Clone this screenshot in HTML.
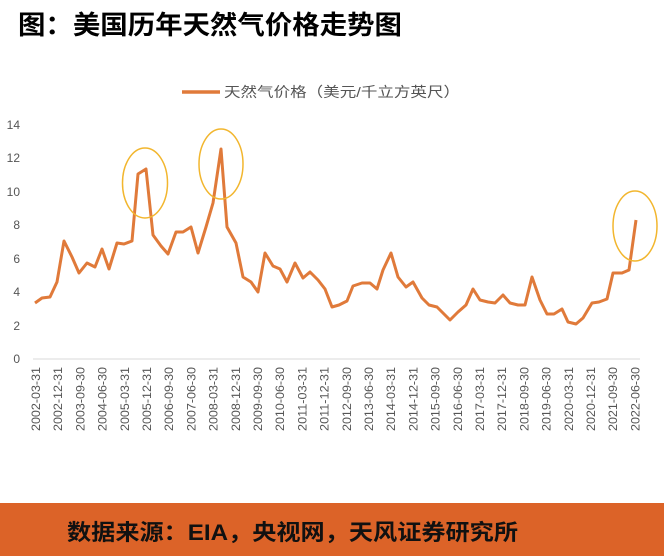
<!DOCTYPE html>
<html><head><meta charset="utf-8"><style>
body{margin:0;background:#fff;width:664px;height:556px;overflow:hidden}
svg{display:block}
</style></head><body>
<svg width="664" height="556" viewBox="0 0 664 556" xmlns="http://www.w3.org/2000/svg" font-family="Liberation Sans, Noto Sans CJK SC, sans-serif">
<text x="18" y="34" font-size="26" font-weight="bold" fill="#000" textLength="384" lengthAdjust="spacingAndGlyphs">图：美国历年天然气价格走势图</text>
<line x1="182" y1="92" x2="220" y2="92" stroke="#e07a3a" stroke-width="3.5"/>
<text x="224" y="97" font-size="14" fill="#555" textLength="236" lengthAdjust="spacingAndGlyphs">天然气价格（美元/千立方英尺）</text>
<g font-size="12" fill="#555" text-anchor="end">
<text x="20" y="129">14</text><text x="20" y="162">12</text><text x="20" y="196">10</text>
<text x="20" y="229">8</text><text x="20" y="263">6</text><text x="20" y="296">4</text>
<text x="20" y="330">2</text><text x="20" y="363">0</text>
</g>
<line x1="33" y1="359" x2="640" y2="359" stroke="#d9d9d9" stroke-width="1"/>
<polyline fill="none" stroke="#e07a3a" stroke-width="3" stroke-linejoin="round" points="35,303 42,298 50,297 57,282 64,241 72,257 79,273 87,263 95,267 102,249 109,269 117,243 124,244 132,241 138,174 146,169 153,235 161,246 168,254 176,232 183,232 191,227 198,253 206,227 213,203 221,149 227,227 236,243 243,277 251,282 258,292 265,253 273,266 280,269 287,282 295,263 303,278 310,272 318,280 325,289 332,307 339,305 347,301 353,286 362,283 370,283 377,289 383,270 391,253 398,277 406,287 413,282 422,298 429,305 437,307 443,313 450,320 458,312 466,305 473,289 480,300 488,302 495,303 503,295 510,303 518,305 525,305 532,277 540,300 547,314 554,314 562,309 568,322 576,324 583,318 592,303 599,302 607,299 613,273 622,273 629,270 636,220"/>
<g fill="none" stroke="#f2b62e" stroke-width="1.5">
<ellipse cx="145" cy="183" rx="22.5" ry="35"/>
<ellipse cx="221" cy="164" rx="22" ry="35"/>
<ellipse cx="635" cy="226" rx="22" ry="35"/>
</g>
<g font-size="11.5" fill="#555" text-anchor="end">
<text transform="translate(40,367) rotate(-90)" textLength="64" lengthAdjust="spacingAndGlyphs">2002-03-31</text>
<text transform="translate(62.2,367) rotate(-90)" textLength="64" lengthAdjust="spacingAndGlyphs">2002-12-31</text>
<text transform="translate(84.4,367) rotate(-90)" textLength="64" lengthAdjust="spacingAndGlyphs">2003-09-30</text>
<text transform="translate(106.6,367) rotate(-90)" textLength="64" lengthAdjust="spacingAndGlyphs">2004-06-30</text>
<text transform="translate(128.8,367) rotate(-90)" textLength="64" lengthAdjust="spacingAndGlyphs">2005-03-31</text>
<text transform="translate(151,367) rotate(-90)" textLength="64" lengthAdjust="spacingAndGlyphs">2005-12-31</text>
<text transform="translate(173.2,367) rotate(-90)" textLength="64" lengthAdjust="spacingAndGlyphs">2006-09-30</text>
<text transform="translate(195.4,367) rotate(-90)" textLength="64" lengthAdjust="spacingAndGlyphs">2007-06-30</text>
<text transform="translate(217.6,367) rotate(-90)" textLength="64" lengthAdjust="spacingAndGlyphs">2008-03-31</text>
<text transform="translate(239.8,367) rotate(-90)" textLength="64" lengthAdjust="spacingAndGlyphs">2008-12-31</text>
<text transform="translate(262,367) rotate(-90)" textLength="64" lengthAdjust="spacingAndGlyphs">2009-09-30</text>
<text transform="translate(284.2,367) rotate(-90)" textLength="64" lengthAdjust="spacingAndGlyphs">2010-06-30</text>
<text transform="translate(306.4,367) rotate(-90)" textLength="64" lengthAdjust="spacingAndGlyphs">2011-03-31</text>
<text transform="translate(328.6,367) rotate(-90)" textLength="64" lengthAdjust="spacingAndGlyphs">2011-12-31</text>
<text transform="translate(350.8,367) rotate(-90)" textLength="64" lengthAdjust="spacingAndGlyphs">2012-09-30</text>
<text transform="translate(373,367) rotate(-90)" textLength="64" lengthAdjust="spacingAndGlyphs">2013-06-30</text>
<text transform="translate(395.2,367) rotate(-90)" textLength="64" lengthAdjust="spacingAndGlyphs">2014-03-31</text>
<text transform="translate(417.4,367) rotate(-90)" textLength="64" lengthAdjust="spacingAndGlyphs">2014-12-31</text>
<text transform="translate(439.6,367) rotate(-90)" textLength="64" lengthAdjust="spacingAndGlyphs">2015-09-30</text>
<text transform="translate(461.8,367) rotate(-90)" textLength="64" lengthAdjust="spacingAndGlyphs">2016-06-30</text>
<text transform="translate(484,367) rotate(-90)" textLength="64" lengthAdjust="spacingAndGlyphs">2017-03-31</text>
<text transform="translate(506.2,367) rotate(-90)" textLength="64" lengthAdjust="spacingAndGlyphs">2017-12-31</text>
<text transform="translate(528.4,367) rotate(-90)" textLength="64" lengthAdjust="spacingAndGlyphs">2018-09-30</text>
<text transform="translate(550.6,367) rotate(-90)" textLength="64" lengthAdjust="spacingAndGlyphs">2019-06-30</text>
<text transform="translate(572.8,367) rotate(-90)" textLength="64" lengthAdjust="spacingAndGlyphs">2020-03-31</text>
<text transform="translate(595,367) rotate(-90)" textLength="64" lengthAdjust="spacingAndGlyphs">2020-12-31</text>
<text transform="translate(617.2,367) rotate(-90)" textLength="64" lengthAdjust="spacingAndGlyphs">2021-09-30</text>
<text transform="translate(639.4,367) rotate(-90)" textLength="64" lengthAdjust="spacingAndGlyphs">2022-06-30</text>
</g>
<rect x="0" y="503" width="664" height="53" fill="#dc6328"/>
<text x="67" y="540" font-size="22" font-weight="bold" fill="#111" textLength="451" lengthAdjust="spacingAndGlyphs">数据来源：EIA，央视网，天风证券研究所</text>
</svg>
</body></html>
